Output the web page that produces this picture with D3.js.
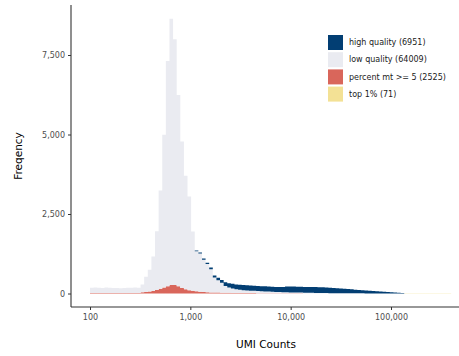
<!DOCTYPE html>
<html>
<head>
<meta charset="utf-8">
<script src="https://cdn.jsdelivr.net/npm/d3@7"></script>
<style>
  body { margin: 0; background: #fff; }
  svg { display: block; font-family: "DejaVu Sans", sans-serif; }
</style>
</head>
<body>
<svg id="chart" width="459" height="356"></svg>
<script>
// histogram bins: 100 equal-width bins in log10 space
const binCount = 100;
const logMin = 2.0;
const logMax = 5.6;

// series names, legend labels and colours (stacked bottom -> top)
const seriesKeys = ["top", "mt", "low", "high"];
const legendLabels = ["high quality (6951)", "low quality (64009)", "percent mt >= 5 (2525)", "top 1% (71)"];
const legendKeys = ["high", "low", "mt", "top"];
const colors = { high: "#023e73", low: "#eaebf1", mt: "#d9665b", top: "#f3e195" };

// counts per bin
const highQuality = [
  0, 0, 0, 0, 0, 0, 0, 0, 0, 0, 0, 0, 0, 0, 0, 0, 0, 0, 0, 0,
  0, 0, 0, 0, 0, 0, 0, 0, 0, 20, 30, 40, 45, 55, 65, 78, 92, 115, 138, 145,
  152, 160, 164, 162, 160, 162, 163, 161, 162, 160, 156, 157, 156, 166, 180, 188, 186, 183, 185, 183,
  185, 183, 185, 181, 183, 178, 167, 162, 156, 146, 141, 132, 126, 115, 105, 99, 94, 83, 78, 71,
  60, 55, 49, 39, 34, 25, 15, 0, 0, 0, 0, 0, 0, 0, 0, 0, 0, 0, 0, 0
];
const lowQuality = [
  165, 172, 165, 160, 170, 168, 160, 155, 150, 155, 162, 165, 170, 168, 240, 480, 690, 1080, 1850, 3090,
  4800, 7080, 8375, 7730, 6010, 4605, 3565, 2945, 1865, 1260, 1205, 1015, 885, 730, 470, 387, 310, 213, 165, 142,
  114, 100, 91, 82, 78, 73, 64, 60, 55, 50, 47, 42, 39, 35, 32, 30, 28, 26, 24, 22,
  20, 18, 16, 14, 13, 12, 11, 10, 9, 8, 7, 6, 5, 5, 4, 4, 3, 3, 2, 2,
  2, 1, 1, 1, 1, 0, 0, 0, 0, 0, 0, 0, 0, 0, 0, 0, 0, 0, 0, 0
];
const percentMt = [
  15, 15, 15, 15, 15, 15, 15, 15, 15, 15, 15, 15, 15, 15, 40, 50, 60, 80, 110, 150,
  190, 230, 265, 265, 230, 175, 135, 105, 85, 70, 55, 45, 40, 35, 30, 28, 25, 22, 20, 18,
  16, 15, 14, 13, 12, 12, 11, 10, 10, 10, 8, 8, 6, 5, 5, 5, 4, 4, 4, 3,
  3, 2, 2, 2, 1, 0, 0, 0, 0, 0, 0, 0, 0, 0, 0, 0, 0, 0, 0, 0,
  0, 0, 0, 0, 0, 0, 0, 0, 0, 0, 0, 0, 0, 0, 0, 0, 0, 0, 0, 0
];
const top1 = [
  0, 0, 0, 0, 0, 0, 0, 0, 0, 0, 0, 0, 0, 0, 0, 0, 0, 0, 0, 0,
  0, 0, 0, 0, 0, 0, 0, 0, 0, 0, 0, 0, 0, 0, 0, 0, 0, 0, 0, 0,
  0, 0, 0, 0, 0, 0, 0, 0, 0, 0, 0, 0, 0, 0, 0, 0, 0, 0, 0, 0,
  0, 0, 0, 0, 0, 0, 0, 0, 0, 0, 0, 0, 0, 0, 0, 0, 0, 0, 0, 0,
  0, 0, 0, 0, 0, 0, 0, 5, 6, 6, 5, 6, 6, 5, 6, 5, 6, 5, 5, 5
];

const xTicks = [100, 1000, 10000, 100000];
const yTicks = [0, 2500, 5000, 7500];

const svg = d3.select("#chart");
const fmt = d3.format(",");

// scales
const x = d3.scaleLog().domain([100, 100000]).range([90, 391]);
const y = d3.scaleLinear().domain([0, 7500]).range([293.5, 55]);

// build table of bins
const step = (logMax - logMin) / binCount;
const table = d3.range(binCount).map(i => ({
  x0: Math.pow(10, logMin + i * step),
  x1: Math.pow(10, logMin + (i + 1) * step),
  high: highQuality[i], low: lowQuality[i], mt: percentMt[i], top: top1[i]
}));

const stacked = d3.stack().keys(seriesKeys)(table);

// one path per series so adjacent bars have no seams
svg.append("g")
  .selectAll("path")
  .data(stacked)
  .join("path")
  .attr("fill", s => colors[s.key])
  .attr("d", s => s.filter(d => d[1] > d[0]).map(d =>
      `M${x(d.data.x0)},${y(d[0])}H${x(d.data.x1)}V${y(d[1])}H${x(d.data.x0)}Z`).join(""));

// axes
const axisColor = "#333333";
const xAxis = svg.append("g").attr("transform", "translate(0,307)")
  .call(d3.axisBottom(x).tickValues(xTicks).tickFormat(fmt).tickSize(3).tickSizeOuter(0));
const yAxis = svg.append("g").attr("transform", "translate(71,0)")
  .call(d3.axisLeft(y).tickValues(yTicks).tickFormat(fmt).tickSize(3).tickSizeOuter(0));

xAxis.select(".domain").attr("d", "M71,0H459");
yAxis.select(".domain").attr("d", "M0,5V307");
[xAxis, yAxis].forEach(a => {
  a.select(".domain").attr("stroke", axisColor).attr("stroke-width", 1.1);
  a.selectAll(".tick line").attr("stroke", axisColor);
  a.selectAll(".tick text").attr("fill", "#4d4d4d").attr("font-size", 8)
    .attr("font-family", "DejaVu Sans, sans-serif");
});
xAxis.selectAll(".tick text").attr("dy", "0.9em");

// axis titles
svg.append("text")
  .attr("x", 266).attr("y", 348)
  .attr("text-anchor", "middle").attr("font-size", 10.5).attr("fill", "#000")
  .text("UMI Counts");
svg.append("text")
  .attr("transform", "translate(22,156) rotate(-90)")
  .attr("text-anchor", "middle").attr("font-size", 10.5).attr("fill", "#000")
  .text("Freqency");

// legend
const legend = svg.append("g").attr("transform", "translate(328,35)");
const rows = legend.selectAll("g")
  .data(legendKeys)
  .join("g")
  .attr("transform", (d, i) => `translate(0,${i * 17.2})`);
rows.append("rect")
  .attr("width", 15).attr("height", 15)
  .attr("fill", d => colors[d]);
rows.append("text")
  .attr("x", 21).attr("y", 7.5).attr("dy", "0.35em")
  .attr("font-size", 8).attr("fill", "#1a1a1a")
  .text((d, i) => legendLabels[i]);
</script>
</body>
</html>
